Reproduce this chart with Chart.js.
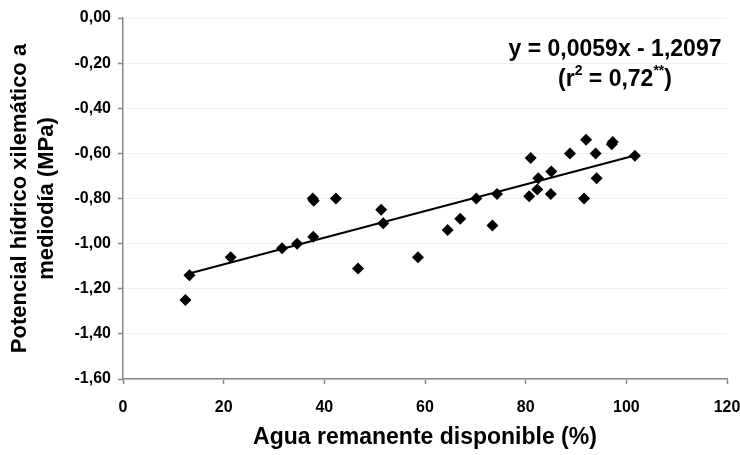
<!DOCTYPE html>
<html>
<head>
<meta charset="utf-8">
<script src="https://cdn.jsdelivr.net/npm/chart.js@4.4.1/dist/chart.umd.min.js"></script>
<style>
  html, body { margin: 0; padding: 0; background: #fff; }
  #wrap { width: 740px; height: 455px; }
</style>
</head>
<body>
<div id="wrap"><canvas id="grafico"></canvas></div>
<script>
// datos
const aguaDisponible = [12.4, 13.2, 21.4, 31.6, 34.6, 37.8, 37.7, 37.9, 42.3, 46.7, 51.3, 51.7, 58.6, 64.5, 67.0, 70.2,
                        73.4, 74.3, 80.7, 81.0, 82.3, 82.5, 85.0, 85.1, 88.8, 91.6, 92.0, 93.9, 94.1, 97.1, 97.3, 101.7];
const potencialHidrico = [-1.25, -1.14, -1.06, -1.02, -1.00, -0.97, -0.80, -0.81, -0.80, -1.11, -0.85, -0.91, -1.06, -0.94, -0.89, -0.80,
                          -0.92, -0.78, -0.79, -0.62, -0.76, -0.71, -0.78, -0.68, -0.60, -0.80, -0.54, -0.60, -0.71, -0.56, -0.55, -0.61];
const xTicks = [0, 20, 40, 60, 80, 100, 120];
const yTicks = [0, -0.2, -0.4, -0.6, -0.8, -1.0, -1.2, -1.4, -1.6];
const pendiente = 0.0059;
const intercepto = -1.2097;

const puntos = aguaDisponible.map((x, i) => ({ x: x, y: potencialHidrico[i] }));
const xMin = Math.min(...aguaDisponible);
const xMax = Math.max(...aguaDisponible);
const tendencia = [
    { x: xMin, y: pendiente * xMin + intercepto },
    { x: xMax, y: pendiente * xMax + intercepto }
];

const fuente = "'Liberation Sans', Arial, sans-serif";

// texto de la ecuación arriba a la derecha
const ecuacionPlugin = {
    id: 'ecuacion',
    afterDatasetsDraw(chart) {
        const ctx = chart.ctx;
        const cx = 615;
        ctx.save();
        ctx.fillStyle = '#000';
        ctx.textBaseline = 'middle';
        ctx.textAlign = 'center';
        ctx.font = 'bold 23px ' + fuente;
        ctx.fillText('y = 0,0059x - 1,2097', cx, 50);

        // (r² = 0,72**) con superíndices
        const partes = [
            { t: '(r', f: 'bold 23px ', dy: 0 },
            { t: '2', f: 'bold 14px ', dy: -9 },
            { t: ' = 0,72', f: 'bold 23px ', dy: 0 },
            { t: '**', f: 'bold 14px ', dy: -9 },
            { t: ')', f: 'bold 23px ', dy: 0 }
        ];
        let total = 0;
        partes.forEach(p => { ctx.font = p.f + fuente; p.w = ctx.measureText(p.t).width; total += p.w; });
        let x = cx - total / 2;
        ctx.textAlign = 'left';
        partes.forEach(p => {
            ctx.font = p.f + fuente;
            ctx.fillText(p.t, x, 80 + p.dy);
            x += p.w;
        });
        ctx.restore();
    }
};

const ctx = document.getElementById('grafico').getContext('2d');
new Chart(ctx, {
    type: 'scatter',
    data: {
        datasets: [{
            label: 'Potencial',
            data: puntos,
            pointStyle: 'rectRot',
            pointRadius: 6,
            backgroundColor: '#000',
            borderColor: '#000',
            borderWidth: 0
        }, {
            type: 'line',
            label: 'Tendencia',
            data: tendencia,
            borderColor: '#000',
            borderWidth: 2,
            pointRadius: 0,
            fill: false
        }]
    },
    options: {
        responsive: true,
        maintainAspectRatio: false,
        animation: false,
        layout: { padding: { top: 18, right: 13, bottom: 0, left: 0 } },
        plugins: {
            legend: { display: false },
            tooltip: { enabled: false }
        },
        scales: {
            x: {
                type: 'linear',
                min: 0,
                max: 120,
                afterBuildTicks: s => { s.ticks = xTicks.map(v => ({ value: v })); },
                afterFit: s => { s.height = 76; s.paddingRight = 0; s.paddingLeft = 0; },
                grid: { drawOnChartArea: false, tickColor: '#888', tickLength: 5, tickWidth: 1.5 },
                border: { color: '#888', width: 1.5 },
                ticks: {
                    color: '#000',
                    padding: 14,
                    font: { family: fuente, size: 16, weight: 'bold' }
                },
                title: {
                    display: true,
                    text: 'Agua remanente disponible (%)',
                    color: '#000',
                    padding: { top: 0, bottom: 4 },
                    font: { family: fuente, size: 23, weight: 'bold' }
                }
            },
            y: {
                type: 'linear',
                min: -1.6,
                max: 0,
                afterBuildTicks: s => { s.ticks = yTicks.map(v => ({ value: v })); },
                afterFit: s => { s.width = 123; },
                grid: { color: '#efefef', tickColor: '#888', tickLength: 5, tickWidth: 1.5 },
                border: { color: '#888', width: 1.5 },
                ticks: {
                    color: '#000',
                    padding: 7,
                    font: { family: fuente, size: 16, weight: 'bold' },
                    callback: v => v.toFixed(2).replace('.', ',')
                },
                title: {
                    display: true,
                    text: ['Potencial hídrico xilemático a', 'mediodía (MPa)'],
                    color: '#000',
                    padding: { top: 7, bottom: 0 },
                    font: { family: fuente, size: 22, weight: 'bold', lineHeight: 1.2 }
                }
            }
        }
    },
    plugins: [ecuacionPlugin]
});
</script>
</body>
</html>
